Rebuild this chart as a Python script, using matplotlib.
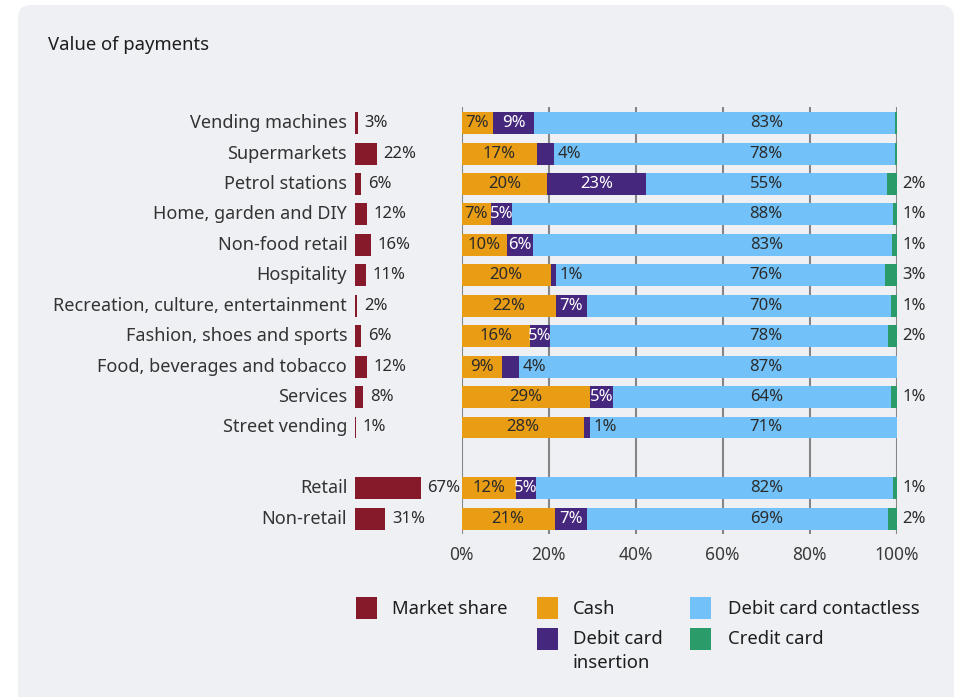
import matplotlib
matplotlib.use("Agg")
import matplotlib.pyplot as plt
from matplotlib.patches import FancyBboxPatch, Rectangle

plt.rcParams['font.family'] = ['Noto Sans', 'DejaVu Sans']

# ---- data -------------------------------------------------------------
categories = [
    "Vending machines", "Supermarkets", "Petrol stations", "Home, garden and DIY",
    "Non-food retail", "Hospitality", "Recreation, culture, entertainment",
    "Fashion, shoes and sports", "Food, beverages and tobacco", "Services",
    "Street vending", "Retail", "Non-retail",
]
row_pos = [0, 1, 2, 3, 4, 5, 6, 7, 8, 9, 10, 12, 13]

market_share = [3, 22, 6, 12, 16, 11, 2, 6, 12, 8, 1, 67, 31]
cash = [7.2, 17.4, 19.6, 6.8, 10.4, 20.5, 21.7, 15.6, 9.2, 29.4, 28.1, 12.4, 21.4]
debit_insertion = [9.4, 3.8, 22.8, 4.7, 6.0, 1.2, 7.1, 4.8, 4.0, 5.4, 1.3, 4.7, 7.4]
debit_contactless = [83.0, 78.4, 55.3, 87.6, 82.6, 75.6, 69.9, 77.6, 86.8, 63.9, 70.6, 82.1, 69.2]
credit_card = [0.4, 0.4, 2.3, 0.9, 1.0, 2.7, 1.3, 2.0, 0.0, 1.3, 0.0, 0.8, 2.0]

x_ticks = [0, 20, 40, 60, 80, 100]

# ---- style ------------------------------------------------------------
C_SHARE = "#861A2B"
C_CASH = "#E99D15"
C_INS = "#45287E"
C_CONT = "#72C1F8"
C_CRED = "#2B9B6A"
PANEL = "#EFF0F4"
TXT = "#2B2B2B"
GRID = "#858585"

W, H = 955, 697
fig = plt.figure(figsize=(W / 100, H / 100), dpi=100)
fig.patch.set_facecolor("white")


def fx(px):
    return px / W


def fy(py):
    return 1 - py / H


# rounded background panel
panel = FancyBboxPatch((fx(18), fy(712)), fx(954) - fx(18), fy(5) - fy(712),
                       boxstyle="round,pad=0,rounding_size=0.014",
                       transform=fig.transFigure, facecolor=PANEL,
                       edgecolor="none", zorder=0, mutation_aspect=W / H)
fig.add_artist(panel)

fig.text(fx(48), fy(45), "Value of payments", fontsize=13.3, color="#1E1E1E",
         ha="left", va="center")

top_px, bot_px = 107, 534
ylim = (13.5, -0.53)
bar_h = 0.72

# ---- main stacked bar axis --------------------------------------------
x0_px, x100_px = 461.7, 896.7
ax = fig.add_axes([fx(x0_px), fy(bot_px), fx(x100_px) - fx(x0_px), fy(top_px) - fy(bot_px)])
ax.set_facecolor("none")
ax.set_xlim(0, 100)
ax.set_ylim(*ylim)
for s in ax.spines.values():
    s.set_visible(False)
ax.set_yticks([])
ax.set_xticks(x_ticks)
ax.set_xticklabels([f"{t}%" for t in x_ticks], fontsize=12.5, color="#3A3A3A")
ax.tick_params(axis="x", length=0, pad=8.5)
for t in x_ticks:
    ax.axvline(t, color=GRID, lw=1.5, zorder=0.5)

left = [0.0] * len(cash)
segments = [(cash, C_CASH), (debit_insertion, C_INS), (debit_contactless, C_CONT), (credit_card, C_CRED)]
for vals, col in segments:
    ax.barh(row_pos, vals, left=left, height=bar_h, color=col, edgecolor="none", zorder=2)
    left = [l + v for l, v in zip(left, vals)]

fs = 12
for y, c, d, k, cr in zip(row_pos, cash, debit_insertion, debit_contactless, credit_card):
    ax.text(c / 2, y, f"{round(c)}%", ha="center", va="center", fontsize=fs, color=TXT, zorder=3)
    if d >= 4.5:
        ax.text(c + d / 2, y, f"{round(d)}%", ha="center", va="center", fontsize=fs,
                color="white", zorder=3)
    else:
        ax.text(c + d + 0.9, y, f"{round(d)}%", ha="left", va="center", fontsize=fs,
                color=TXT, zorder=3)
    ax.text(70, y, f"{round(k)}%", ha="center", va="center", fontsize=fs, color=TXT, zorder=3)
    if cr >= 0.5:
        ax.text(101.3, y, f"{round(cr)}%", ha="left", va="center", fontsize=fs,
                color=TXT, zorder=3, clip_on=False)

# ---- market share axis ------------------------------------------------
ms_x0 = 355
ms_scale = 0.98  # px per percentage point
ax2 = fig.add_axes([fx(ms_x0), fy(bot_px), fx(ms_x0 + 100 * ms_scale) - fx(ms_x0), fy(top_px) - fy(bot_px)])
ax2.set_facecolor("none")
ax2.set_xlim(0, 100)
ax2.set_ylim(*ylim)
ax2.axis("off")
ax2.barh(row_pos, market_share, height=bar_h, color=C_SHARE, edgecolor="none")
for y, m, name in zip(row_pos, market_share, categories):
    ax2.text(m + 7, y, f"{m}%", ha="left", va="center", fontsize=fs, color=TXT, clip_on=False)
    ax2.text(-8, y, name, ha="right", va="center", fontsize=13, color="#333333", clip_on=False)

# ---- legend -----------------------------------------------------------
legend_items = [
    (356, 597, C_SHARE, 392, ["Market share"]),
    (537, 597, C_CASH, 573, ["Cash"]),
    (690, 597, C_CONT, 728, ["Debit card contactless"]),
    (537, 628, C_INS, 573, ["Debit card", "insertion"]),
    (690, 628, C_CRED, 728, ["Credit card"]),
]
for sx, sy, col, tx, lines in legend_items:
    fig.add_artist(Rectangle((fx(sx), fy(sy + 22)), fx(21), 22 / H,
                             transform=fig.transFigure, facecolor=col, edgecolor="none"))
    for i, line in enumerate(lines):
        fig.text(fx(tx), fy(sy + 11.5 + 24 * i), line, fontsize=13.3, color="#1E1E1E",
                 ha="left", va="center")

fig.savefig("out.png", dpi=100)
